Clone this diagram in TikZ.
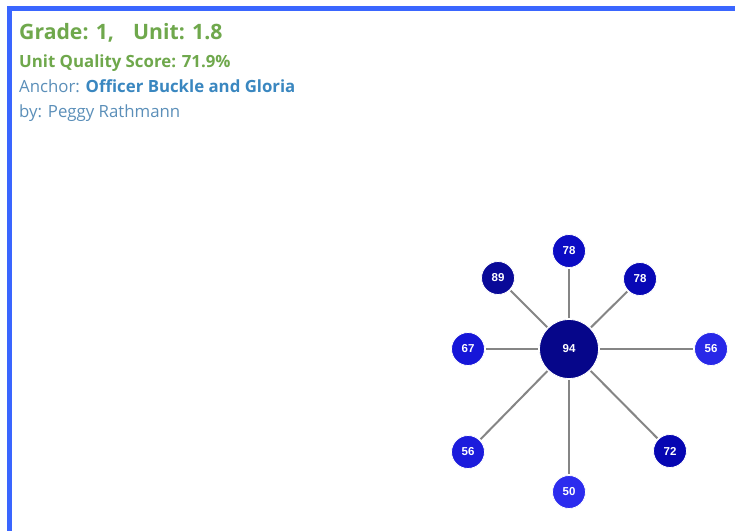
\documentclass[tikz,border=0pt]{standalone}
\usepackage{fontspec}
\setmainfont{Open Sans}
\newfontfamily\nodefont{Liberation Sans}
\definecolor{frameblue}{HTML}{3A66FF}
\definecolor{titlegreen}{HTML}{6FA84C}
\definecolor{labelblue}{HTML}{5B8FB9}
\definecolor{linkblue}{HTML}{3A87C0}
\definecolor{spoke}{HTML}{858585}
\definecolor{cA}{HTML}{06068A}
\definecolor{cB}{HTML}{0A0A98}
\definecolor{cC}{HTML}{0C0CC4}
\definecolor{cD}{HTML}{0808B6}
\definecolor{cE}{HTML}{1616D8}
\definecolor{cF}{HTML}{2828E8}
\definecolor{cG}{HTML}{1C1CDC}
\definecolor{cH}{HTML}{2C2CEE}
\definecolor{cI}{HTML}{0606B2}
\tikzset{
  ball/.style={circle, draw=white, line width=0.8pt, inner sep=0pt,
    minimum size=33pt, text=white, font=\nodefont\bfseries\fontsize{11.5}{12}\selectfont},
  hub/.style={ball, minimum size=59pt},
  link/.style={draw=spoke, line width=2pt, shorten <=1pt, shorten >=1pt},
  info/.style={anchor=base west, inner sep=0pt}
}
\begin{document}
\begin{tikzpicture}[x=1pt, y=-1pt]
  \useasboundingbox (0,0) rectangle (735,531);
  \fill[white] (0,0) rectangle (735,531);
  % frame on the top and left sides
  \fill[frameblue] (7,6) rectangle (735,11);
  \fill[frameblue] (7,6) rectangle (12,531);

  % header text
  \node[info, text=titlegreen, font=\bfseries\fontsize{21.2}{24}\selectfont] (title) at (19,39) {Grade: 1,\hspace{0.9em}Unit: 1.8};
  \node[info, text=titlegreen, font=\bfseries\fontsize{16.8}{18}\selectfont] (score) at (19,67) {Unit Quality Score: 71.9\%};
  \node[info, text=labelblue, font=\fontsize{16.8}{18}\selectfont] (anchor) at (19,92) {Anchor: \textcolor{linkblue}{\bfseries Officer Buckle and Gloria}};
  \node[info, text=labelblue, font=\fontsize{16.8}{18}\selectfont] (author) at (19,117) {by: Peggy Rathmann};

  % star graph
  \node[hub, fill=cA] (c) at (569,349) {94};
  \node[ball, fill=cC] (n) at (569,251) {78};
  \node[ball, fill=cB] (nw) at (498,278) {89};
  \node[ball, fill=cD] (ne) at (640,279) {78};
  \node[ball, fill=cE] (w) at (468,349) {67};
  \node[ball, fill=cF] (e) at (711,349) {56};
  \node[ball, fill=cG] (sw) at (468,452) {56};
  \node[ball, fill=cH] (s) at (569,492) {50};
  \node[ball, fill=cI] (se) at (670,451) {72};

  \foreach \t in {n,nw,ne,w,e,sw,s,se}
    \draw[link] (c) -- (\t);
\end{tikzpicture}
\end{document}
